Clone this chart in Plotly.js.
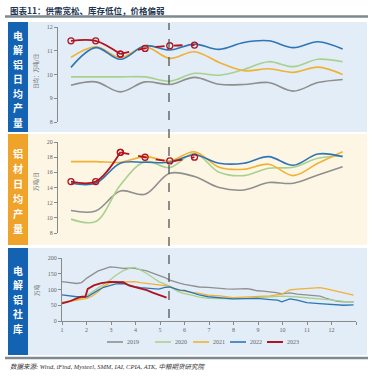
<!DOCTYPE html>
<html><head><meta charset="utf-8">
<script src="https://cdn.plot.ly/plotly-3.0.1.min.js"></script>
<style>html,body{margin:0;padding:0;background:#fff}#c{width:379px;height:376px}</style>
</head><body><div id="c"></div>
<script>
// ---------- DATA ----------
const months = [1,2,3,4,5,6,7,8,9,10,11,12];
const years = ['2019','2020','2021','2022','2023'];
// Panel 1: electrolytic aluminium daily output (万吨/日)
const alu2019 = [9.55,9.69,9.27,9.69,9.58,9.88,9.59,9.58,9.66,9.30,9.66,9.79];
const alu2020 = [9.90,9.90,9.90,9.90,9.72,10.05,9.97,10.21,10.54,10.33,10.64,10.54];
const alu2021 = [10.72,11.17,10.72,11.17,10.68,10.96,10.51,10.16,10.24,10.09,10.31,10.00];
const alu2022 = [10.30,11.13,10.64,11.21,11.03,11.28,11.06,11.35,11.42,11.13,11.38,11.07];
const alu2023Months = [1,2,3];
const alu2023 = [11.42,11.42,10.86];
const alu2023EstMonths = [3,4,5,6];
const alu2023Est = [10.86,11.10,11.21,11.24];
// Panel 2: aluminium products daily output (万吨/日)
const mat2019 = [10.96,10.90,13.55,13.10,15.88,15.44,13.99,13.68,14.65,14.56,15.66,16.75];
const mat2020 = [9.83,9.51,14.34,17.41,16.62,18.50,16.01,15.57,16.54,16.67,17.86,18.16];
const mat2021 = [17.41,17.41,17.33,18.07,17.50,18.72,16.67,16.40,17.07,15.57,17.20,18.72];
const mat2022 = [14.56,14.56,17.20,17.33,17.33,18.29,17.20,17.20,18.07,16.93,18.42,18.07];
const mat2023Months = [1,2,3];
const mat2023 = [14.78,14.78,18.64];
const mat2023EstMonths = [3,4,5,6];
const mat2023Est = [18.64,17.99,17.50,18.00];
// Panel 3: social inventory (万吨), x in month units
const inv2019X = [1.0,1.3,1.6,1.8,2.03,2.25,2.48,2.7,2.96,3.2,3.5,3.75,3.97,4.2,4.46,4.7,4.95,5.2,5.4,5.6,5.8,6.0,6.3,6.6,6.97,7.2,7.45,7.7,7.97,8.2,8.54,8.75,8.97,9.2,9.49,9.75,9.97,10.3,10.6,10.99,11.3,11.53,11.75,11.97,12.2,12.48,12.9];
const inv2019 = [125,123,119,122,137,148,159,165,172,170,167,168,167,163,159,152,146,138,130,124,120,116,112,108,107,105,104,102,101,102,103,100,96,95,93,90,86,89,85,82,80,79,73,67,63,61,61];
const inv2020X = [1.0,1.3,1.6,1.9,2.1,2.3,2.5,2.75,2.96,3.2,3.5,3.75,3.97,4.2,4.46,4.7,4.95,5.2,5.4,5.7,5.95,6.3,6.6,6.97,7.45,7.97,8.5,8.97,9.5,9.97,10.5,10.99,11.5,11.97,12.5,12.9];
const inv2020 = [60,62,66,75,85,95,105,118,130,145,160,167,170,162,151,138,125,117,110,95,88,82,76,72,70,70,72,74,76,79,77,74,71,67,62,61];
const inv2021X = [1.0,1.3,1.6,2.03,2.25,2.48,2.7,2.96,3.2,3.5,3.97,4.2,4.46,4.7,4.95,5.2,5.4,5.7,5.95,6.3,6.6,6.97,7.45,7.97,8.5,8.97,9.5,9.97,10.3,10.6,10.99,11.3,11.53,11.75,11.97,12.3,12.6,12.9];
const inv2021 = [58,62,66,72,80,93,110,122,123,124,125,122,120,117,115,112,110,100,95,92,88,82,80,74,76,77,80,85,99,101,104,105,106,103,99,93,88,82];
const inv2022X = [1.0,1.3,1.6,2.03,2.25,2.48,2.7,2.96,3.2,3.5,3.75,3.97,4.2,4.46,4.7,4.95,5.2,5.4,5.6,5.8,6.0,6.3,6.6,6.97,7.45,7.97,8.5,8.97,9.5,9.8,9.97,10.3,10.6,10.99,11.5,11.97,12.5,12.9];
const inv2022 = [83,80,77,77,88,98,107,114,118,119,113,109,106,104,102,101,107,108,103,98,97,90,83,77,74,70,71,72,68,66,61,70,66,58,55,52,50,51];
const inv2023X = [1.0,1.3,1.6,1.8,1.95,2.05,2.3,2.6,2.96,3.3,3.5,3.75,3.97,4.2,4.46,4.7,4.95,5.1,5.27];
const inv2023 = [56,62,72,77,77,102,113,120,124,124,123,112,107,103,98,90,84,80,74];
const monthTicks = [1,2,3,4,5,6,7,8,9,10,11,12,13];
const monthTickText = ['1','2','3','4','5','6','7','8','9','10','11','12',''];
const invTicks = [0,50,100,150,200];

// ---------- STYLE ----------
const W = 379, H = 376;
const px = v => v / W, py = v => 1 - v / H;
const colors = {'2019':'#8f8f8f','2020':'#a9d18e','2021':'#f0b134','2022':'#2e75b6','2023':'#b3121f'};
const serif = 'Liberation Serif, Noto Sans CJK SC, serif';
const cjk = 'Noto Sans CJK SC, sans-serif';

function sp(x, y, yr, xa, ya, dash, mk) {
  const t = {x:x, y:y, xaxis:xa, yaxis:ya, type:'scatter', mode: mk ? 'lines+markers' : 'lines',
    line:{color:colors[yr], width: yr==='2023'?1.8:1.6, shape:'spline', smoothing:1, dash: dash||'solid'},
    showlegend:false, hoverinfo:'skip'};
  if (mk) t.marker = {symbol:'circle-open', size:6, color:colors[yr], line:{width:1.3, color:colors[yr]}};
  return t;
}
function ln(x, y, yr) {
  return {x:x, y:y, xaxis:'x3', yaxis:'y3', type:'scatter', mode:'lines',
    line:{color:colors[yr], width: yr==='2023'?1.8:1.3}, showlegend:false, hoverinfo:'skip'};
}
const traces = [
  sp(months, alu2019, '2019','x','y'), sp(months, alu2020, '2020','x','y'),
  sp(months, alu2021, '2021','x','y'), sp(months, alu2022, '2022','x','y'),
  sp(alu2023EstMonths, alu2023Est, '2023','x','y','dash',true),
  sp(alu2023Months, alu2023, '2023','x','y','solid',true),
  sp(months, mat2019, '2019','x2','y2'), sp(months, mat2020, '2020','x2','y2'),
  sp(months, mat2021, '2021','x2','y2'), sp(months, mat2022, '2022','x2','y2'),
  sp(mat2023EstMonths, mat2023Est, '2023','x2','y2','dash',true),
  sp(mat2023Months, mat2023, '2023','x2','y2','solid',true),
  ln(inv2019X, inv2019, '2019'), ln(inv2020X, inv2020, '2020'), ln(inv2021X, inv2021, '2021'),
  ln(inv2022X, inv2022, '2022'), ln(inv2023X, inv2023, '2023')
];

const tickFont = {family:serif, size:6, color:'#666'};
const yBase = {showgrid:false, zeroline:false, showline:true, linecolor:'#8a8a8a', linewidth:1,
  ticks:'outside', ticklen:3, tickcolor:'#8a8a8a', tickfont:tickFont, fixedrange:true};

const shapes = [
  {type:'line', xref:'paper', yref:'paper', x0:px(5), x1:px(368), y0:py(16.5), y1:py(16.5), line:{color:'#7d8a8f', width:2.5}},
  {type:'line', xref:'paper', yref:'paper', x0:px(5), x1:px(368), y0:py(358), y1:py(358), line:{color:'#7d8a8f', width:2.5}},
  {type:'rect', xref:'paper', yref:'paper', layer:'below', x0:px(28), x1:px(367), y0:py(132), y1:py(22), fillcolor:'#e3edf7', line:{width:0}},
  {type:'rect', xref:'paper', yref:'paper', layer:'below', x0:px(28), x1:px(367), y0:py(245), y1:py(134), fillcolor:'#fdf6e4', line:{width:0}},
  {type:'rect', xref:'paper', yref:'paper', layer:'below', x0:px(28), x1:px(367), y0:py(355), y1:py(248), fillcolor:'#e3edf7', line:{width:0}},
  {type:'rect', xref:'paper', yref:'paper', layer:'below', x0:px(8), x1:px(28), y0:py(132), y1:py(22), fillcolor:'#1463b3', line:{width:0}},
  {type:'rect', xref:'paper', yref:'paper', layer:'below', x0:px(8), x1:px(28), y0:py(245), y1:py(134), fillcolor:'#f0a32b', line:{width:0}},
  {type:'rect', xref:'paper', yref:'paper', layer:'below', x0:px(8), x1:px(28), y0:py(355), y1:py(248), fillcolor:'#1463b3', line:{width:0}},
  {type:'line', xref:'paper', yref:'paper', x0:px(169), x1:px(169), y0:py(318), y1:py(23), line:{color:'#555', width:1.3, dash:'dash'}}
];

const annotations = [
  {xref:'paper', yref:'paper', x:px(8), y:py(10), xanchor:'left', yanchor:'middle', showarrow:false,
   text:'<b>图表11：供需宽松、库存低位，价格偏弱</b>', font:{family:cjk, size:8.5, color:'#1e3550'}},
  {xref:'paper', yref:'paper', x:px(8), y:py(366), xanchor:'left', yanchor:'middle', showarrow:false,
   text:'<i>数据来源: Wind, iFind, Mysteel, SMM, IAI, CPIA, ATK, 中粮期货研究院</i>', font:{family:serif, size:6.5, color:'#333'}},
  {xref:'paper', yref:'paper', x:px(36), y:py(72), xanchor:'center', yanchor:'middle', showarrow:false, textangle:-90,
   text:'日均：万吨/日', font:{family:cjk, size:5.5, color:'#666'}},
  {xref:'paper', yref:'paper', x:px(36), y:py(182), xanchor:'center', yanchor:'middle', showarrow:false, textangle:-90,
   text:'万吨/日', font:{family:cjk, size:5.5, color:'#666'}},
  {xref:'paper', yref:'paper', x:px(37), y:py(290), xanchor:'center', yanchor:'middle', showarrow:false, textangle:-90,
   text:'万吨', font:{family:cjk, size:5.5, color:'#666'}}
];
// vertical panel labels: one annotation per character, sized so boxes do not overlap
function vlabel(str, y0, step, size) {
  [...str].forEach((ch, i) => annotations.push({xref:'paper', yref:'paper', x:px(18), y:py(y0 + i*step),
    xanchor:'center', yanchor:'middle', showarrow:false, borderpad:0, text:'<b>'+ch+'</b>',
    font:{family:cjk, size:size, color:'#fff'}}));
}
vlabel('电解铝日均产量', 35.5, 14.5, 9.9);
vlabel('铝材日均产量', 153.5, 14.9, 10.2);
vlabel('电解铝社库', 270.5, 14.6, 9.9);

// manual legend
const legX = [107, 155, 193, 230, 267];
years.forEach((yr, i) => {
  shapes.push({type:'line', xref:'paper', yref:'paper', x0:px(legX[i]), x1:px(legX[i]+16), y0:py(342), y1:py(342),
    line:{color:colors[yr], width: yr==='2023'?2:1.6}});
  annotations.push({xref:'paper', yref:'paper', x:px(legX[i]+18), y:py(341.5), xanchor:'left', yanchor:'middle',
    showarrow:false, text:yr, font:{family:serif, size:6, color:'#666'}});
});

const layout = {
  width:W, height:H, margin:{l:0, r:0, t:0, b:0},
  paper_bgcolor:'#fff', plot_bgcolor:'rgba(0,0,0,0)', showlegend:false,
  xaxis: {domain:[px(58), px(355)], range:[0.474, 12.5], visible:false, anchor:'y', fixedrange:true},
  yaxis: Object.assign({}, yBase, {domain:[py(122), py(27)], range:[8, 12], dtick:1, anchor:'x'}),
  xaxis2:{domain:[px(58), px(355)], range:[0.474, 12.5], visible:false, anchor:'y2', fixedrange:true},
  yaxis2:Object.assign({}, yBase, {domain:[py(233), py(142)], range:[8, 20], dtick:2, anchor:'x2'}),
  xaxis3:{domain:[px(62), px(356)], range:[1, 13], anchor:'y3', showgrid:false, zeroline:false, showline:true,
    linecolor:'#8a8a8a', ticks:'outside', ticklen:3, tickcolor:'#8a8a8a', tickvals:monthTicks, ticktext:monthTickText,
    tickfont:tickFont, fixedrange:true},
  yaxis3:Object.assign({}, yBase, {domain:[py(321), py(258)], range:[0, 200], tickvals:invTicks, anchor:'x3'}),
  shapes:shapes, annotations:annotations
};
Plotly.newPlot('c', traces, layout, {staticPlot:true, displayModeBar:false});
</script></body></html>
